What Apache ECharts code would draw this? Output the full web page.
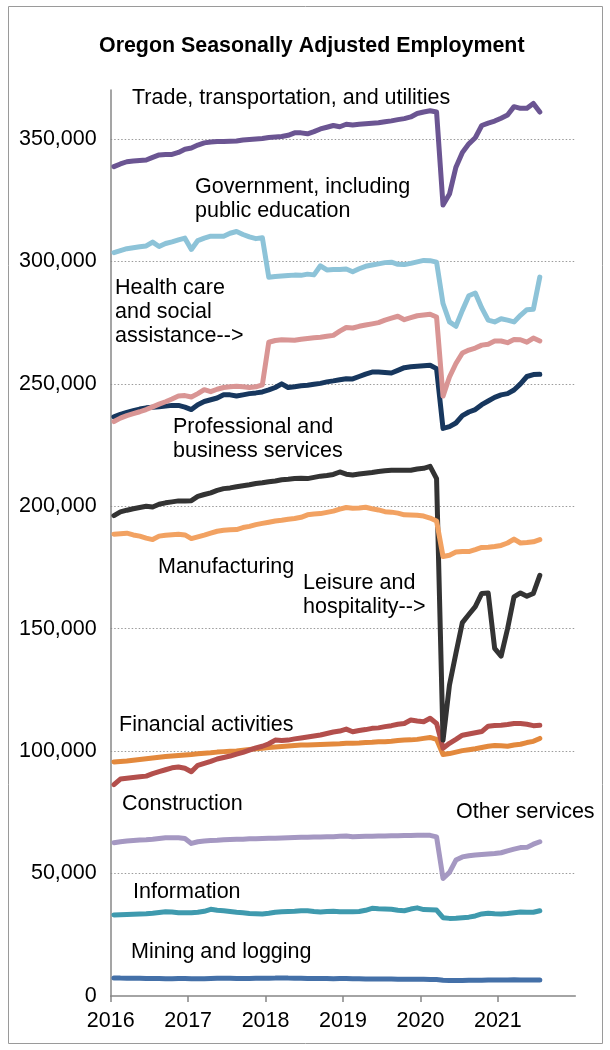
<!DOCTYPE html>
<html><head><meta charset="utf-8">
<script src="https://cdn.jsdelivr.net/npm/echarts@6/dist/echarts.min.js"></script>
<style>html,body{margin:0;padding:0;background:#fff}#c{width:610px;height:1050px}</style>
</head><body><div id="c"></div>
<script>
// Monthly values, Jan 2016 .. Jul 2021, in thousands of jobs
const startYear = 2016;
const yearTicks = ['2016','2017','2018','2019','2020','2021'];
const yTicks = [0, 50000, 100000, 150000, 200000, 250000, 300000, 350000];

const trade = [338.7,339.8,340.7,341.0,341.2,341.4,342.5,343.5,343.7,343.7,
344.5,345.8,346.3,347.5,348.4,348.8,349.0,349.0,349.1,349.2,
349.6,349.8,350.0,350.2,350.6,350.8,351.0,351.5,352.5,352.5,
352.1,353.0,354.1,354.8,355.5,355.0,356.0,355.7,356.0,356.2,
356.4,356.6,357.0,357.4,357.9,358.3,359.0,360.4,361.0,361.5,
361.0,323.0,327.5,338.5,344.5,348.0,350.5,355.5,356.5,357.3,
358.5,359.8,363.2,362.5,362.5,364.5,361.0];
const government = [303.6,304.4,305.2,305.6,306.0,306.3,307.9,306.1,307.3,308.0,
308.8,309.5,304.9,308.5,309.5,310.3,310.3,310.3,311.5,312.2,
311.0,310.0,309.3,309.7,293.5,293.8,294.0,294.2,294.4,294.3,
294.8,294.5,298.2,296.5,296.7,296.7,296.9,295.8,297.0,298.0,
298.5,299.0,299.5,299.7,298.8,298.7,299.2,299.8,300.4,300.3,
299.7,282.8,275.3,273.5,280.0,286.0,287.1,281.0,276.0,275.3,
276.6,276.0,275.3,278.0,280.3,280.5,293.6];
const health = [234.6,236.0,237.0,237.8,238.6,239.5,240.6,241.7,242.7,243.8,
245.0,245.2,244.6,246.0,247.6,246.8,247.8,248.5,248.8,249.0,
248.8,248.5,248.8,249.6,267.0,267.7,268.0,267.9,267.8,268.2,
268.5,268.8,269.0,269.4,269.8,271.5,273.0,272.8,273.5,274.0,
274.5,275.0,276.0,276.8,277.6,276.2,277.0,277.8,278.1,278.4,
277.3,245.0,252.8,258.3,262.6,263.8,264.6,265.8,266.2,267.5,
267.5,266.8,268.1,268.0,267.0,268.7,267.5];
const professional = [236.5,237.5,238.3,239.0,239.7,240.2,240.4,240.6,240.9,241.2,
241.2,240.5,239.5,241.5,242.8,243.5,244.2,245.5,245.5,245.0,
245.5,246.0,246.3,246.7,247.5,248.5,250.0,248.5,248.8,249.2,
249.4,249.8,250.2,250.8,251.2,251.7,252.1,252.0,253.0,254.0,
254.8,254.8,254.6,254.4,255.5,256.6,257.0,257.2,257.4,257.6,
256.2,231.8,232.5,234.0,237.0,238.5,239.5,241.5,243.0,244.5,
245.5,246.0,247.5,250.0,253.0,253.8,253.9];
const leisure = [196.2,197.7,198.4,199.0,199.5,200.0,199.7,200.8,201.4,201.8,
202.2,202.2,202.3,204.0,204.8,205.5,206.5,207.2,207.5,208.0,
208.4,208.8,209.3,209.6,210.0,210.3,210.8,211.0,211.3,211.4,
211.3,211.8,212.3,212.6,213.0,214.0,213.1,212.8,213.2,213.5,
213.8,214.2,214.5,214.7,214.7,214.7,214.7,215.2,215.5,216.3,
211.3,104.5,127.0,140.0,152.5,155.8,159.0,164.4,164.6,142.0,
138.8,150.0,163.0,164.6,163.3,164.4,171.8];
const manufacturing = [188.6,188.8,189.0,188.3,187.8,187.0,186.4,187.8,188.2,188.4,
188.6,188.3,186.8,187.5,188.2,189.0,189.8,190.2,190.4,190.5,
191.3,191.8,192.5,193.0,193.5,194.0,194.3,194.7,195.0,195.5,
196.5,196.8,197.0,197.5,198.0,198.8,199.5,199.2,199.3,199.6,
199.0,198.5,197.8,197.6,197.2,196.5,196.4,196.3,196.0,195.2,
194.0,179.5,180.0,181.3,181.5,181.5,182.3,183.2,183.3,183.6,
184.0,185.0,186.6,185.0,185.2,185.5,186.4];
const construction = [86.3,88.6,88.9,89.2,89.5,89.8,90.8,91.6,92.4,93.2,
93.5,93.0,91.6,94.2,95.0,95.8,96.8,97.4,98.0,98.8,
99.5,100.4,101.3,102.0,103.0,104.5,104.3,104.5,105.0,105.4,
105.8,106.2,106.6,107.2,107.8,108.2,109.0,107.9,108.4,108.8,
109.3,109.5,110.0,110.4,111.0,111.3,112.7,112.3,112.0,113.4,
111.3,101.2,103.2,104.8,106.5,107.0,107.5,108.0,110.2,110.5,
110.6,110.9,111.3,111.3,111.0,110.4,110.6];
const financial = [95.6,95.8,96.0,96.3,96.6,96.9,97.2,97.5,97.8,98.0,
98.2,98.4,98.6,98.9,99.1,99.3,99.6,99.8,100.0,100.1,
100.4,100.7,101.0,101.2,101.5,101.7,101.9,102.1,102.3,102.5,
102.5,102.6,102.7,102.8,102.9,103.0,103.2,103.2,103.3,103.5,
103.6,103.8,103.8,104.0,104.3,104.5,104.6,104.8,105.2,105.6,
104.8,98.6,99.0,99.6,100.2,100.6,101.0,101.5,102.0,102.3,
102.2,102.0,102.5,102.8,103.5,104.0,105.2];
const otherServices = [62.6,63.0,63.3,63.5,63.7,63.8,64.0,64.3,64.6,64.6,
64.6,64.3,62.3,63.0,63.3,63.5,63.6,63.8,63.9,64.0,
64.0,64.2,64.2,64.3,64.4,64.4,64.5,64.6,64.7,64.8,
64.8,64.9,64.9,65.0,65.0,65.2,65.3,65.0,65.1,65.2,
65.2,65.3,65.3,65.4,65.4,65.5,65.5,65.6,65.7,65.6,
65.0,48.0,50.5,55.5,56.8,57.3,57.6,57.8,58.0,58.2,
58.5,59.3,60.0,60.6,60.7,62.0,63.0];
const information = [33.1,33.2,33.3,33.4,33.5,33.6,33.8,34.1,34.4,34.3,
34.0,34.0,34.0,34.2,34.6,35.4,35.0,34.8,34.5,34.2,
34.0,33.7,33.6,33.5,33.8,34.2,34.4,34.5,34.6,34.8,
34.8,34.5,34.3,34.5,34.6,34.4,34.4,34.4,34.5,35.0,
35.8,35.6,35.5,35.4,35.0,34.8,35.5,36.0,35.3,35.2,
35.1,32.0,31.7,31.8,32.0,32.2,32.7,33.5,33.8,33.6,
33.5,33.7,34.0,34.3,34.2,34.2,34.8];
const mining = [7.3,7.3,7.2,7.2,7.2,7.1,7.1,7.1,7.0,7.0,
7.1,7.1,7.0,7.0,7.0,7.1,7.2,7.2,7.2,7.1,
7.1,7.1,7.2,7.2,7.2,7.3,7.3,7.3,7.2,7.2,
7.1,7.1,7.1,7.1,7.0,7.1,7.1,7.0,7.0,6.9,
6.9,6.9,6.9,6.9,6.8,6.8,6.8,6.8,6.8,6.7,
6.7,6.4,6.3,6.3,6.3,6.4,6.4,6.4,6.5,6.5,
6.5,6.5,6.6,6.5,6.5,6.5,6.5];

const seriesDefs = [
  {name:'Mining and logging', data: mining, color:'#4470A8'},
  {name:'Information', data: information, color:'#3F9AAE'},
  {name:'Other services', data: otherServices, color:'#A598C2'},
  {name:'Financial activities', data: financial, color:'#E3893D'},
  {name:'Construction', data: construction, color:'#B34F4C'},
  {name:'Leisure and hospitality', data: leisure, color:'#333333'},
  {name:'Manufacturing', data: manufacturing, color:'#F2A262'},
  {name:'Professional and business services', data: professional, color:'#17375E'},
  {name:'Health care and social assistance', data: health, color:'#D99594'},
  {name:'Government', data: government, color:'#8DC3D8'},
  {name:'Trade, transportation, and utilities', data: trade, color:'#6B5592'}
];

const labelFont = 'Liberation Sans, Arial, sans-serif';
const annotations = [
  {text:'Trade, transportation, and utilities', x:132, y:98},
  {text:'Government, including', x:195, y:187},
  {text:'public education', x:195, y:211},
  {text:'Health care', x:115, y:288},
  {text:'and social', x:115, y:312},
  {text:'assistance-->', x:115, y:336},
  {text:'Professional and', x:173, y:427},
  {text:'business services', x:173, y:451},
  {text:'Manufacturing', x:158, y:567},
  {text:'Leisure and', x:303, y:583},
  {text:'hospitality-->', x:303, y:607},
  {text:'Financial activities', x:119, y:725},
  {text:'Construction', x:122, y:804},
  {text:'Other services', x:456, y:812},
  {text:'Information', x:133, y:892},
  {text:'Mining and logging', x:131, y:952}
];

const chart = echarts.init(document.getElementById('c'), null, {renderer:'canvas'});
const fmt = v => v.toLocaleString('en-US');

chart.setOption({
  animation: false,
  backgroundColor: '#fff',
  title: {
    text: 'Oregon Seasonally Adjusted Employment',
    left: 94, top: 31,
    textStyle: {fontFamily: labelFont, fontSize: 21.4, fontWeight: 'bold', color: '#000'}
  },
  grid: {left: 110.7, right: 34.7, top: 90, bottom: 54, containLabel: false},
  xAxis: {
    type: 'value', min: 0, max: 72, interval: 12,
    axisLine: {show: true, lineStyle: {color: '#878787', width: 1.5}},
    axisTick: {show: true, length: 6, lineStyle: {color: '#878787', width: 1.5}},
    splitLine: {show: false},
    axisLabel: {
      margin: 14, showMaxLabel: false,
      fontFamily: labelFont, fontSize: 21.5, color: '#000',
      formatter: v => yearTicks[v / 12] || ''
    }
  },
  yAxis: {
    type: 'value', min: 0, max: 370000, interval: 50000,
    axisLine: {show: true, lineStyle: {color: '#878787', width: 1.5}},
    axisTick: {show: false},
    splitLine: {show: true, showMinLine: false, showMaxLine: false,
      lineStyle: {color: '#9a9a9a', width: 1, type: [1.5, 2]}},
    axisLabel: {
      margin: 14, showMaxLabel: false,
      fontFamily: labelFont, fontSize: 21.5, color: '#000',
      formatter: v => (yTicks.indexOf(v) >= 0 ? fmt(v) : '')
    }
  },
  graphic: [
    {type:'rect', shape:{x:8.5, y:6.5, width:594, height:1037}, style:{fill:'none', stroke:'#9a9a9a', lineWidth:1}, z:-1, silent:true}
  ].concat(annotations.map(a => ({
    type:'text', x:a.x, y:a.y, silent:true, z:100,
    style:{text:a.text, fill:'#000', font:'21.5px ' + labelFont, verticalAlign:'middle', align:'left'}
  }))),
  series: seriesDefs.map(s => ({
    name: s.name, type: 'line', showSymbol: false, symbol: 'none',
    data: s.data.map((v, i) => [i + 0.5, v * 1000]),
    lineStyle: {color: s.color, width: 5, cap: 'round', join: 'round'},
    itemStyle: {color: s.color},
    emphasis: {disabled: true},
    clip: true
  }))
});
</script>
</body></html>
